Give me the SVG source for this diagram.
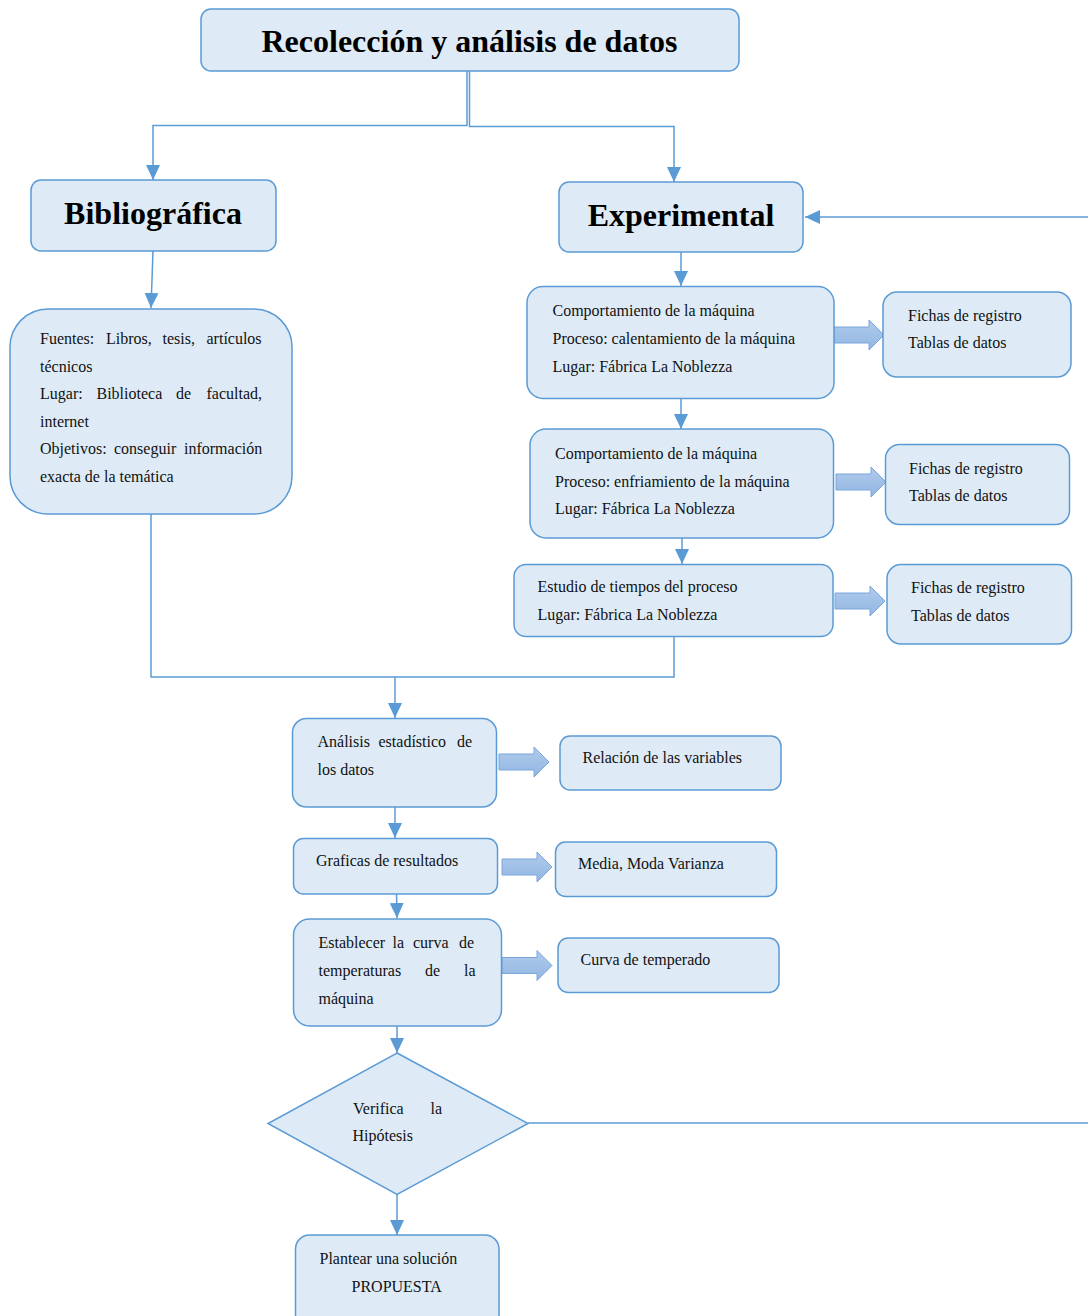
<svg xmlns="http://www.w3.org/2000/svg" xmlns:xlink="http://www.w3.org/1999/xlink" width="1088" height="1316" viewBox="0 0 1088 1316">
  <style>
    .box { fill: #deebf7; stroke: #5b9bd5; stroke-width: 1.5; }
    .t { font-family: "Liberation Serif", "Times New Roman", serif; font-size: 16px; fill: #111; }
    .h { font-family: "Liberation Serif", "Times New Roman", serif; font-size: 32px; font-weight: bold; fill: #000; text-anchor: middle; }
    .ln { fill: none; stroke: #5b9bd5; stroke-width: 1.5; }
    .arr { marker-end: url(#tip); }
    .blk { fill: url(#blkFill); stroke: #7aa6dc; stroke-width: 1; }
  </style>
  <defs>
    <marker id="tip" markerUnits="userSpaceOnUse" markerWidth="16" markerHeight="14" refX="15" refY="7" orient="auto">
      <path d="M0,0 L15,7 L0,14 Z" fill="#5b9bd5"/>
    </marker>
    <linearGradient id="blkFill" x1="0" y1="0" x2="0" y2="1">
      <stop offset="0" stop-color="#b0cbec"/>
      <stop offset="1" stop-color="#92b6e2"/>
    </linearGradient>
    <!-- wide block arrow pointing right, origin at tail centre -->
    <path id="blkArrow" class="blk" d="M0,-8 H35 V-15 L50,0 L35,15 V8 H0 Z"/>
  </defs>

  <rect width="1088" height="1316" fill="#ffffff"/>

  <!-- connectors -->
  <g id="connectors">
    <path class="ln arr" d="M467,71 V125.5 H153 V180"/>
    <path class="ln arr" d="M469.5,71 V126.5 H674 V182"/>
    <path class="ln arr" d="M1088,217 H805"/>
    <path class="ln arr" d="M153,251 L151,308"/>
    <path class="ln arr" d="M681,252 V286"/>
    <path class="ln arr" d="M681,399 V429"/>
    <path class="ln arr" d="M682,538 V564"/>
    <path class="ln" d="M674,637 V677 H151 V514"/>
    <path class="ln arr" d="M395,677 V718"/>
    <path class="ln arr" d="M395,807 V838"/>
    <path class="ln arr" d="M396.5,894 L397,918"/>
    <path class="ln arr" d="M397,1026 V1053"/>
    <path class="ln" d="M528,1123 H1088"/>
    <path class="ln arr" d="M397,1194 V1235"/>
    <use xlink:href="#blkArrow" x="834" y="335"/>
    <use xlink:href="#blkArrow" x="836" y="482"/>
    <use xlink:href="#blkArrow" x="835" y="601"/>
    <use xlink:href="#blkArrow" x="499" y="762"/>
    <use xlink:href="#blkArrow" x="502" y="867"/>
    <use xlink:href="#blkArrow" x="502" y="965.5"/>
  </g>

  <g id="titulo">
    <rect class="box" x="201" y="9" width="538" height="62" rx="10"/>
    <text class="h" x="469.5" y="52">Recolección y análisis de datos</text>
  </g>

  <g id="bibliografica">
    <rect class="box" x="31" y="180" width="245" height="71" rx="10"/>
    <text class="h" x="153" y="224">Bibliográfica</text>
  </g>

  <g id="experimental">
    <rect class="box" x="559" y="182" width="244" height="70" rx="10"/>
    <text class="h" x="681" y="226">Experimental</text>
  </g>

  <g id="fuentes">
    <rect class="box" x="10" y="309" width="282" height="205" rx="38"/>
    <text class="t" y="344"><tspan x="40">Fuentes:</tspan><tspan x="106">Libros,</tspan><tspan x="162.5">tesis,</tspan><tspan x="206.5">artículos</tspan></text>
    <text class="t" x="40" y="371.5">técnicos</text>
    <text class="t" y="399"><tspan x="40">Lugar:</tspan><tspan x="96.5">Biblioteca</tspan><tspan x="176">de</tspan><tspan x="206.5">facultad,</tspan></text>
    <text class="t" x="40" y="426.5">internet</text>
    <text class="t" y="454"><tspan x="40">Objetivos:</tspan><tspan x="114">conseguir</tspan><tspan x="184">información</tspan></text>
    <text class="t" x="40" y="481.5">exacta de la temática</text>
  </g>

  <g id="calentamiento">
    <rect class="box" x="527" y="286.5" width="307" height="112" rx="16"/>
    <text class="t" x="552.5" y="316">Comportamiento de la máquina</text>
    <text class="t" x="552.5" y="343.5">Proceso: calentamiento de la máquina</text>
    <text class="t" x="552.5" y="371.5">Lugar: Fábrica La Noblezza</text>
  </g>

  <g id="fichas1">
    <rect class="box" x="883" y="292" width="188" height="85" rx="14"/>
    <text class="t" x="908" y="320.5">Fichas de registro</text>
    <text class="t" x="908" y="348">Tablas de datos</text>
  </g>

  <g id="enfriamiento">
    <rect class="box" x="530" y="429" width="303.5" height="109" rx="16"/>
    <text class="t" x="555" y="459">Comportamiento de la máquina</text>
    <text class="t" x="555" y="486.5">Proceso: enfriamiento de la máquina</text>
    <text class="t" x="555" y="514">Lugar: Fábrica La Noblezza</text>
  </g>

  <g id="fichas2">
    <rect class="box" x="885.5" y="444.5" width="184" height="80" rx="14"/>
    <text class="t" x="909" y="473.5">Fichas de registro</text>
    <text class="t" x="909" y="501">Tablas de datos</text>
  </g>

  <g id="tiempos">
    <rect class="box" x="514" y="564.5" width="319" height="72" rx="12"/>
    <text class="t" x="537.5" y="592">Estudio de tiempos del proceso</text>
    <text class="t" x="537.5" y="619.5">Lugar: Fábrica La Noblezza</text>
  </g>

  <g id="fichas3">
    <rect class="box" x="887" y="564.5" width="184.5" height="79.5" rx="14"/>
    <text class="t" x="911" y="593">Fichas de registro</text>
    <text class="t" x="911" y="620.5">Tablas de datos</text>
  </g>

  <g id="analisis">
    <rect class="box" x="292.5" y="718.5" width="204" height="88.5" rx="14"/>
    <text class="t" y="747"><tspan x="317.5">Análisis</tspan><tspan x="378.5">estadístico</tspan><tspan x="457">de</tspan></text>
    <text class="t" x="317.5" y="774.5">los datos</text>
  </g>

  <g id="relacion">
    <rect class="box" x="560" y="736" width="221" height="54" rx="10"/>
    <text class="t" x="582.5" y="762.5">Relación de las variables</text>
  </g>

  <g id="graficas">
    <rect class="box" x="293.5" y="838.5" width="204" height="55.5" rx="10"/>
    <text class="t" x="316" y="866">Graficas de resultados</text>
  </g>

  <g id="media">
    <rect class="box" x="555.5" y="842" width="221" height="54.5" rx="10"/>
    <text class="t" x="578" y="868.5">Media, Moda Varianza</text>
  </g>

  <g id="establecer">
    <rect class="box" x="293.5" y="919" width="208" height="107" rx="16"/>
    <text class="t" y="947.5"><tspan x="318.5">Establecer</tspan><tspan x="392.5">la</tspan><tspan x="413">curva</tspan><tspan x="459">de</tspan></text>
    <text class="t" y="975.5"><tspan x="318.5">temperaturas</tspan><tspan x="425">de</tspan><tspan x="464">la</tspan></text>
    <text class="t" x="318.5" y="1003.5">máquina</text>
  </g>

  <g id="curva">
    <rect class="box" x="558" y="938" width="221" height="54.5" rx="10"/>
    <text class="t" x="580.5" y="964.5">Curva de temperado</text>
  </g>

  <g id="verifica">
    <path class="box" d="M397,1053 L528,1123.5 L397,1194.5 L268,1123.5 Z"/>
    <text class="t" y="1113.5"><tspan x="353">Verifica</tspan><tspan x="430.5">la</tspan></text>
    <text class="t" x="352.5" y="1141">Hipótesis</text>
  </g>

  <g id="propuesta">
    <rect class="box" x="295.5" y="1235" width="203.5" height="100" rx="14"/>
    <text class="t" x="319.5" y="1263.5">Plantear una solución</text>
    <text class="t" x="351.5" y="1292">PROPUESTA</text>
  </g>
</svg>
